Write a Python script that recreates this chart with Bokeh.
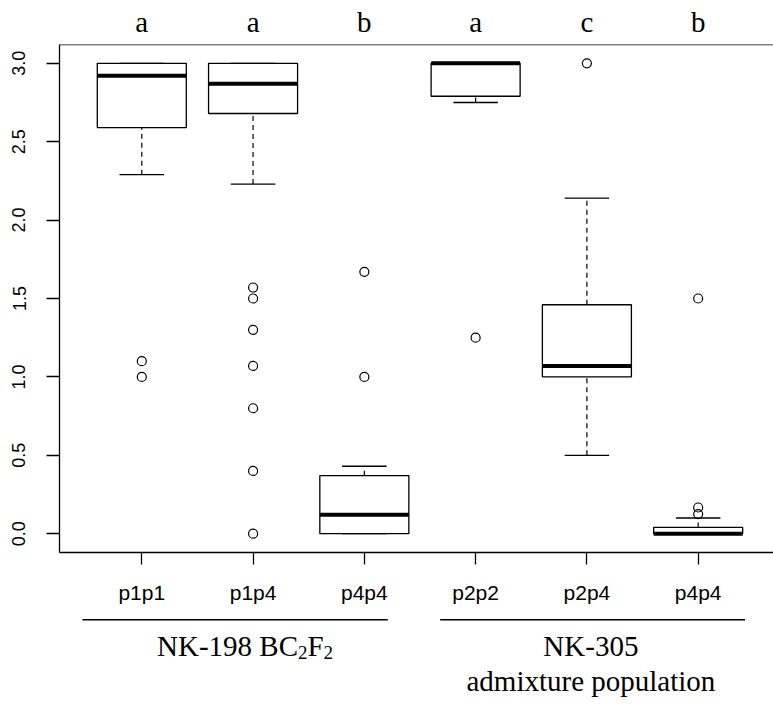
from bokeh.plotting import figure
from bokeh.models import Range1d, FixedTicker, NumeralTickFormatter, Span
from bokeh.layouts import column
from bokeh.embed import file_html
from bokeh.resources import INLINE
from bokeh.core.properties import value

# ---- data ----
genotypes = ["p1p1", "p1p4", "p4p4", "p2p2", "p2p4", "p4p4"]
letters = ["a", "a", "b", "a", "c", "b"]
lower_whisker = [2.29, 2.23, 0.00, 2.75, 0.50, 0.00]
q1 = [2.59, 2.68, 0.00, 2.79, 1.00, 0.00]
median = [2.92, 2.87, 0.12, 3.00, 1.07, 0.00]
q3 = [3.00, 3.00, 0.37, 3.00, 1.46, 0.04]
upper_whisker = [3.00, 3.00, 0.43, 3.00, 2.14, 0.10]
outliers = [
    [1.10, 1.00],
    [1.57, 1.50, 1.30, 1.07, 0.80, 0.40, 0.00],
    [1.67, 1.00],
    [1.25],
    [3.00],
    [1.50, 0.167, 0.125],
]
y_ticks = [0.0, 0.5, 1.0, 1.5, 2.0, 2.5, 3.0]
group_start = [0.467, 3.681]
group_end = [3.21, 6.421]

pos = list(range(1, len(genotypes) + 1))
box_half = 0.4
staple_half = 0.2

W = 773
LEFT = 59
XR = Range1d(0.2604, 6.677)

SANS = "Liberation Sans"
SERIF = "Liberation Serif"

# ---- top strip: significance letters ----
p0 = figure(width=W, height=44, x_range=XR, y_range=Range1d(44, 0),
            output_backend="svg", toolbar_location=None,
            x_axis_location=None, y_axis_location=None,
            min_border_left=LEFT, min_border_right=0, min_border_top=0, min_border_bottom=0)
p0.grid.visible = False
p0.outline_line_color = None
p0.text(x=pos, y=[21] * len(pos), text=letters, text_font=value(SERIF),
        text_font_size="29px", text_align="center", text_baseline="alphabetic",
        text_color="black")

# ---- main box plot ----
p = figure(width=W, height=566, x_range=XR, y_range=Range1d(-0.12, 3.12),
           output_backend="svg", toolbar_location=None,
           min_border_left=LEFT, min_border_right=0, min_border_top=0, min_border_bottom=58)
p.grid.visible = False
p.outline_line_color = None
p.background_fill_color = "white"

xa = p.xaxis[0]
xa.ticker = FixedTicker(ticks=pos)
xa.major_label_overrides = {i: g for i, g in zip(pos, genotypes)}
xa.major_tick_out = 12
xa.major_tick_in = 0
xa.minor_tick_out = 0
xa.minor_tick_in = 0
xa.axis_line_width = 1.3
xa.major_tick_line_width = 1.3
xa.major_label_text_font = SANS
xa.major_label_text_font_size = "21px"
xa.major_label_text_color = "black"
xa.major_label_standoff = 16

ya = p.yaxis[0]
ya.ticker = FixedTicker(ticks=y_ticks)
ya.formatter = NumeralTickFormatter(format="0.0")
ya.major_label_orientation = "vertical"
ya.major_tick_out = 13
ya.major_tick_in = 0
ya.minor_tick_out = 0
ya.minor_tick_in = 0
ya.axis_line_width = 1.3
ya.major_tick_line_width = 1.3
ya.major_label_text_font = SANS
ya.major_label_text_font_size = "18px"
ya.major_label_text_color = "black"
ya.major_label_standoff = 21

p.add_layout(Span(location=3.12, dimension="width", line_color="black", line_width=1.3))

# whiskers (dashed)
p.segment(x0=pos, y0=q3, x1=pos, y1=upper_whisker, line_color="black",
          line_width=1.2, line_dash="5 4")
p.segment(x0=pos, y0=lower_whisker, x1=pos, y1=q1, line_color="black",
          line_width=1.2, line_dash="5 4")
# staples
p.segment(x0=[x - staple_half for x in pos], y0=upper_whisker,
          x1=[x + staple_half for x in pos], y1=upper_whisker,
          line_color="black", line_width=1.3)
p.segment(x0=[x - staple_half for x in pos], y0=lower_whisker,
          x1=[x + staple_half for x in pos], y1=lower_whisker,
          line_color="black", line_width=1.3)
# boxes
p.vbar(x=pos, width=2 * box_half, bottom=q1, top=q3, fill_color="white",
       line_color="black", line_width=1.3)
# medians
p.segment(x0=[x - box_half for x in pos], y0=median,
          x1=[x + box_half for x in pos], y1=median,
          line_color="black", line_width=4)
# outliers
ox = [x for x, vals in zip(pos, outliers) for _ in vals]
oy = [v for vals in outliers for v in vals]
p.scatter(x=ox, y=oy, marker="circle", size=9, fill_color=None,
          line_color="black", line_width=1.2)

# ---- bottom strip: population groups ----
p2 = figure(width=W, height=94, x_range=XR, y_range=Range1d(94, 0),
            output_backend="svg", toolbar_location=None,
            x_axis_location=None, y_axis_location=None,
            min_border_left=LEFT, min_border_right=0, min_border_top=0, min_border_bottom=0)
p2.grid.visible = False
p2.outline_line_color = None
p2.segment(x0=group_start, y0=[9.3, 9.3], x1=group_end, y1=[9.3, 9.3],
           line_color="black", line_width=1.5)

# group 1 label: NK-198 BC2F2 (with subscripts)
g1_x = pos[1]
p2.text(x=[g1_x], y=[35.7], text=["NK-198 BC"], x_offset=-96,
        text_font=value(SERIF), text_font_size="29px", text_align="left",
        text_baseline="alphabetic", text_color="black")
p2.text(x=[g1_x, g1_x], y=[42.3, 42.3], text=["2", "2"], x_offset=[45, 70.5],
        text_font=value(SERIF), text_font_size="19px", text_align="left",
        text_baseline="alphabetic", text_color="black")
p2.text(x=[g1_x], y=[35.7], text=["F"], x_offset=54.5,
        text_font=value(SERIF), text_font_size="29px", text_align="left",
        text_baseline="alphabetic", text_color="black")

# group 2 label
g2_x = pos[4]
p2.text(x=[g2_x, g2_x], y=[35.7, 70.7], text=["NK-305", "admixture population"],
        x_offset=4, text_font=value(SERIF), text_font_size="29px",
        text_align="center", text_baseline="alphabetic", text_color="black")

layout = column(p0, p, p2, spacing=0)
open("out.html", "w").write(file_html(layout, INLINE))
